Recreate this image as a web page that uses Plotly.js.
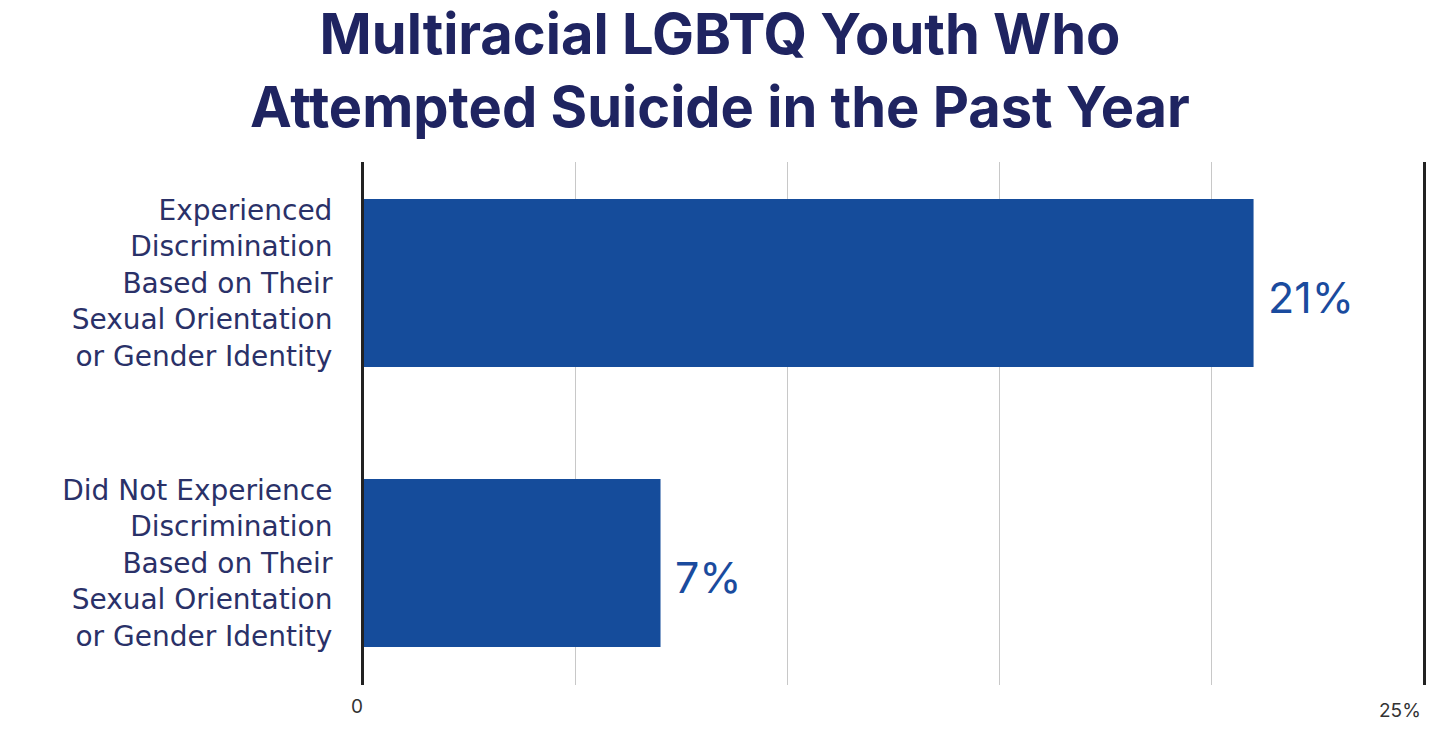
<!DOCTYPE html>
<html>
<head>
<meta charset="utf-8">
<script src="https://cdn.plot.ly/plotly-3.0.1.min.js"></script>
<style>html,body{margin:0;padding:0;background:#fff;}#chart{width:1440px;height:749px;}</style>
</head>
<body>
<div id="chart"></div>
<script>
const categories = [
  "Experienced<br>Discrimination<br>Based on Their<br>Sexual Orientation<br>or Gender Identity",
  "Did Not Experience<br>Discrimination<br>Based on Their<br>Sexual Orientation<br>or Gender Identity"
];
const values = [21, 7];
const valueLabels = ["21%", "7%"];
const tickVals = [0, 25];
const tickLabels = ["0", "25%"];

const trace = {
  type: "bar",
  orientation: "h",
  y: categories,
  x: values,
  marker: {color: "#154c9b"},
  width: 0.6,
  hoverinfo: "skip"
};

const valueAnnotations = values.map((v, i) => ({
  x: v, xref: "x", y: categories[i], yref: "y",
  text: valueLabels[i], showarrow: false,
  xanchor: "left", yanchor: "middle",
  xshift: 12, yshift: -14,
  font: {family: "Inter, 'Noto Sans', sans-serif", size: 43, color: "#1a4b9e"}
}));

const tickAnnotations = tickVals.map((v, i) => ({
  x: v, xref: "x", y: 0, yref: "paper",
  text: tickLabels[i], showarrow: false,
  xanchor: i === 0 ? "center" : "right",
  xshift: i === 0 ? -7 : 0,
  yanchor: "top", yshift: i === 0 ? -8 : -12,
  font: {family: "Inter, 'Noto Sans', sans-serif", size: 19, color: "#333333"}
}));

const layout = {
  width: 1440, height: 749,
  paper_bgcolor: "#ffffff", plot_bgcolor: "#ffffff",
  margin: {l: 364, r: 17, t: 162, b: 64},
  showlegend: false,
  title: {
    text: "Multiracial LGBTQ Youth Who<br>Attempted Suicide in the Past Year",
    x: 0.5, xanchor: "center", xref: "container",
    y: 0.928, yanchor: "middle", yref: "container",
    font: {family: "Inter, 'Noto Sans', sans-serif", size: 56, color: "#1f2461", weight: 700}
  },
  xaxis: {
    range: [0, 25],
    tickvals: [5, 10, 15, 20],
    showticklabels: false,
    showgrid: true, gridcolor: "#c8c8c8", gridwidth: 1,
    zeroline: false, showline: false, fixedrange: true
  },
  yaxis: {
    range: [1.436, -0.432],
    showline: true, mirror: true, linecolor: "#222222", linewidth: 3,
    showgrid: false, zeroline: false, ticks: "",
    ticklabelstandoff: 23,
    tickfont: {family: "'DejaVu Sans', sans-serif", size: 28, color: "#2a3168"},
    fixedrange: true
  },
  annotations: valueAnnotations.concat(tickAnnotations)
};

Plotly.newPlot("chart", [trace], layout, {displayModeBar: false, staticPlot: true});
</script>
</body>
</html>
